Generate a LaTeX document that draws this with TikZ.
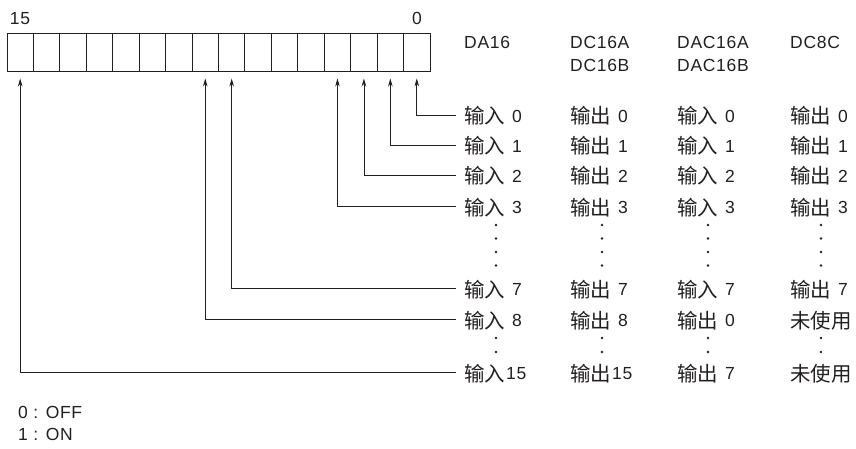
\documentclass[tikz,border=0pt]{standalone}
\usepackage{fontspec}
\setmainfont[LetterSpace=4]{Liberation Sans}
\newfontfamily\cjk[Scale=1.17]{Noto Sans CJK SC}
\usetikzlibrary{arrows.meta}
\usepackage{xcolor}
\definecolor{ink}{HTML}{231F20}
\newcommand{\inp}[2][7pt]{{\cjk 输入}\hspace{#1}\raisebox{1.5pt}{#2}}
\newcommand{\outp}[2][7pt]{{\cjk 输出}\hspace{#1}\raisebox{1.5pt}{#2}}

\begin{document}
\begin{tikzpicture}[x=1pt, y=-1pt,
    cell/.style={draw=ink, line width=0.9pt, minimum width=26.44pt, minimum height=38pt, inner sep=0pt},
    lbl/.style={anchor=west, inner sep=0pt, text=ink, text height=21pt, text depth=3pt, font=\fontsize{17.5}{20}\selectfont},
    wire/.style={-{Stealth[length=8pt, width=4.5pt]}, line width=0.8pt, draw=ink, shorten <=8pt, shorten >=7pt},
]
\useasboundingbox (0,0) rectangle (856,449);

% register bits
\foreach \i in {0,...,15}
    \node[cell] (b\i) at ({416.78-26.44*\i}, 52) {};
\node[lbl, anchor=center] (hi) at (20, 16) {15};
\node[lbl, anchor=center] (lo) at (417, 16) {0};

% column heads
\node[lbl] (hda) at (464, 40) {DA16};
\node[lbl] (hdca) at (570, 40) {DC16A};
\node[lbl] (hdcb) at (570, 63) {DC16B};
\node[lbl] (hdaca) at (677, 40) {DAC16A};
\node[lbl] (hdacb) at (677, 63) {DAC16B};
\node[lbl] (hdc8) at (790, 40) {DC8C};

% DA16
\node[lbl] (da0) at (464, 115) {\inp{0}};
\node[lbl] (da1) at (464, 145) {\inp{1}};
\node[lbl] (da2) at (464, 175) {\inp{2}};
\node[lbl] (da3) at (464, 206) {\inp{3}};
\node[lbl] (da7) at (464, 288) {\inp{7}};
\node[lbl] (da8) at (464, 319) {\inp{8}};
\node[lbl] (da15) at (464, 372) {\inp[1pt]{15}};

% DC16A / DC16B
\node[lbl] (dc0) at (570, 115) {\outp{0}};
\node[lbl] (dc1) at (570, 145) {\outp{1}};
\node[lbl] (dc2) at (570, 175) {\outp{2}};
\node[lbl] (dc3) at (570, 206) {\outp{3}};
\node[lbl] (dc7) at (570, 288) {\outp{7}};
\node[lbl] (dc8) at (570, 319) {\outp{8}};
\node[lbl] (dc15) at (570, 372) {\outp[1pt]{15}};

% DAC16A / DAC16B
\node[lbl] (dac0) at (677, 115) {\inp{0}};
\node[lbl] (dac1) at (677, 145) {\inp{1}};
\node[lbl] (dac2) at (677, 175) {\inp{2}};
\node[lbl] (dac3) at (677, 206) {\inp{3}};
\node[lbl] (dac7) at (677, 288) {\inp{7}};
\node[lbl] (dac8) at (677, 319) {\outp{0}};
\node[lbl] (dac15) at (677, 372) {\outp{7}};

% DC8C
\node[lbl] (dd0) at (790, 115) {\outp{0}};
\node[lbl] (dd1) at (790, 145) {\outp{1}};
\node[lbl] (dd2) at (790, 175) {\outp{2}};
\node[lbl] (dd3) at (790, 206) {\outp{3}};
\node[lbl] (dd7) at (790, 288) {\outp{7}};
\node[lbl] (dd8) at (790, 319) {{\cjk 未使用}};
\node[lbl] (dd15) at (790, 372) {{\cjk 未使用}};

% omitted rows
\foreach \x in {496, 602, 708, 821} {
    \foreach \y in {225, 238.5, 252, 265.5, 338, 352}
        \fill[ink] (\x, \y) circle (1.3);
}

% bit wiring
\draw[wire] (da0.west) -| (b0.south);
\draw[wire] (da1.west) -| (b1.south);
\draw[wire] (da2.west) -| (b2.south);
\draw[wire] (da3.west) -| (b3.south);
\draw[wire] (da7.west) -| (b7.south);
\draw[wire] (da8.west) -| (b8.south);
\draw[wire] (da15.west) -| (b15.south);

% legend
\node[lbl] (off) at (18, 409) {0 : OFF};
\node[lbl] (on) at (18, 431) {1 : ON};

\end{tikzpicture}
\end{document}
